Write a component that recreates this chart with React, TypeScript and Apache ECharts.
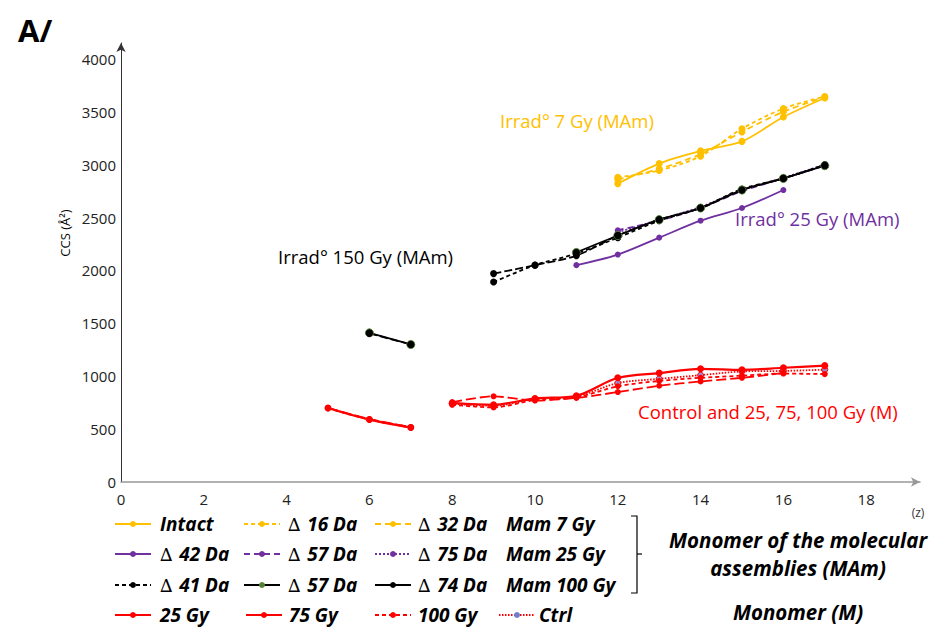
import React, { useEffect, useRef } from "react";
import * as echarts from "echarts";

// ---------- data ----------
const zM1 = [5, 6, 7];
const zM2 = [8, 9, 10, 11, 12, 13, 14, 15, 16, 17];
const zM2b = [8, 9, 10, 11, 12, 13, 14, 15, 16];
const gy25A = [700, 590, 515];
const gy25B = [745, 730, 790, 815, 985, 1030, 1070, 1060, 1080, 1100];
const gy75A = [702, 595, 520];
const gy75B = [755, 810, 770, 795, 850, 910, 950, 985, 1030];
const gy100A = [696, 590, 514];
const gy100B = [730, 705, 775, 800, 905, 955, 985, 1005, 1025, 1020];
const ctrlA = [700, 592, 518];
const ctrlB = [740, 720, 785, 808, 935, 975, 1010, 1045, 1050, 1062];

const z6 = [6, 7];
const z9 = [9, 10, 11, 12, 13, 14, 15, 16, 17];
const z11 = [11, 12, 13, 14, 15, 16, 17];
const z11b = [11, 12, 13, 14, 15, 16];
const z12 = [12, 13, 14, 15, 16, 17];

const b41 = [1890, 2050, 2160, 2310, 2470, 2590, 2770, 2870, 3000];
const b57A = [1410, 1300];
const b57B = [2170, 2330, 2480, 2590, 2760, 2870, 2990];
const b74A = [1405, 1300];
const b74B = [1970, 2050, 2140, 2330, 2480, 2590, 2760, 2870, 2995];

const p42 = [2050, 2150, 2310, 2470, 2590, 2760];
const p57 = [2380, 2470, 2590, 2750, 2870, 2990];
const p75 = [2360, 2480, 2600, 2760, 2875, 3000];

const yIntact = [2820, 3010, 3130, 3220, 3450, 3630];
const y16 = [2880, 2945, 3080, 3340, 3530, 3645];
const y32 = [2860, 2960, 3100, 3310, 3500, 3640];

const xTicks = [0, 2, 4, 6, 8, 10, 12, 14, 16, 18];
const yTicks = [0, 500, 1000, 1500, 2000, 2500, 3000, 3500, 4000];

const YEL = "#FFC000";
const PUR = "#7030A0";
const RED = "#FF0000";
const BLK = "#000000";
const GRN = "#548235";

const pairs = (xs: number[], ys: number[]) => xs.map((x, i) => [x, ys[i]]);

function mk(name: string, xs: number[], ys: number[], color: string, type: any, opts: any = {}) {
  return {
    name,
    type: "line",
    data: pairs(xs, ys),
    smooth: 0.3,
    symbol: "circle",
    symbolSize: opts.size ?? 6,
    lineStyle: { color, width: opts.width ?? 1.8, type },
    itemStyle: { color: opts.marker ?? color, borderColor: opts.border ?? color, borderWidth: opts.bw ?? 0 },
    z: opts.z ?? 2,
  };
}

// legend definition (delta symbol kept separate for its thin style)
const legendItems = [
  { d0: "", t: "Intact", c: YEL, d: "solid", lx: 115, tx: 160, row: 0 },
  { d0: "\u2206", t: "16 Da", c: YEL, d: [4, 3], lx: 244, tx: 288, row: 0 },
  { d0: "\u2206", t: "32 Da", c: YEL, d: [6, 4], lx: 375, tx: 418, row: 0 },
  { d0: "", t: "Mam 7 Gy", c: null, d: null, lx: 0, tx: 506, row: 0 },
  { d0: "\u2206", t: "42 Da", c: PUR, d: "solid", lx: 115, tx: 160, row: 1 },
  { d0: "\u2206", t: "57 Da", c: PUR, d: [6, 4], lx: 244, tx: 288, row: 1 },
  { d0: "\u2206", t: "75 Da", c: PUR, d: [2, 2], lx: 375, tx: 418, row: 1 },
  { d0: "", t: "Mam 25 Gy", c: null, d: null, lx: 0, tx: 506, row: 1 },
  { d0: "\u2206", t: "41 Da", c: BLK, d: [4, 3], lx: 115, tx: 160, row: 2 },
  { d0: "\u2206", t: "57 Da", c: BLK, d: "solid", lx: 244, tx: 288, row: 2, m: GRN },
  { d0: "\u2206", t: "74 Da", c: BLK, d: "solid", lx: 375, tx: 418, row: 2 },
  { d0: "", t: "Mam 100 Gy", c: null, d: null, lx: 0, tx: 506, row: 2 },
  { d0: "", t: "25 Gy", c: RED, d: "solid", lx: 115, tx: 160, row: 3 },
  { d0: "", t: "75 Gy", c: RED, d: "solid", lx: 246, tx: 289, row: 3 },
  { d0: "", t: "100 Gy", c: RED, d: [4, 3], lx: 375, tx: 418, row: 3 },
  { d0: "", t: "Ctrl", c: RED, d: [1.5, 1.5], lx: 499, tx: 539, row: 3, m: "#6f7fd0" },
];
const rowY = [524, 554, 585, 615];

const F = "'Open Sans'";

export default function App() {
  const ref = useRef<HTMLDivElement>(null);
  useEffect(() => {
    if (!ref.current) return;
    const chart = echarts.init(ref.current, null, { renderer: "svg" });

    const graphics: any[] = [];
    legendItems.forEach((it) => {
      const y = rowY[it.row];
      if (it.c) {
        graphics.push({
          type: "line",
          shape: { x1: it.lx, y1: y, x2: it.lx + 36, y2: y },
          style: { stroke: it.c, lineWidth: 2, lineDash: it.d === "solid" ? null : it.d },
        });
        graphics.push({
          type: "circle",
          shape: { cx: it.lx + 18, cy: y, r: 3 },
          style: { fill: it.m ?? it.c },
        });
      }
      const txt = it.d0 ? `{d|${it.d0}}  {b|${it.t}}` : `{b|${it.t}}`;
      graphics.push({
        type: "text",
        x: it.tx,
        y,
        style: {
          text: txt,
          fill: "#000",
          textVerticalAlign: "middle",
          rich: {
            d: { font: `italic 18px 'DejaVu Serif'`, fill: "#000" },
            b: { font: `italic bold 19px ${F}`, fill: "#000" },
          },
        },
      });
    });
    // bracket
    graphics.push({
      type: "polyline",
      shape: { points: [[631, 516], [637, 516], [637, 593], [631, 593]] },
      style: { stroke: "#000", lineWidth: 1.2, fill: null },
    });
    graphics.push({
      type: "line",
      shape: { x1: 637, y1: 554, x2: 642, y2: 554 },
      style: { stroke: "#000", lineWidth: 1.2 },
    });
    const rightTexts = [
      { t: "Monomer of the molecular", y: 540 },
      { t: "assemblies (MAm)", y: 568 },
      { t: "Monomer (M)", y: 612 },
    ];
    rightTexts.forEach((r) =>
      graphics.push({
        type: "text",
        x: 798,
        y: r.y,
        style: {
          text: r.t,
          fill: "#000",
          font: `italic bold 20.5px ${F}`,
          textAlign: "center",
          textVerticalAlign: "middle",
        },
      })
    );
    // annotations
    const ann = [
      { t: "Irrad\u00b0 7 Gy (MAm)", x: 500, y: 120, c: YEL },
      { t: "Irrad\u00b0 25 Gy (MAm)", x: 735, y: 218, c: PUR },
      { t: "Irrad\u00b0 150 Gy (MAm)", x: 278, y: 256, c: BLK },
      { t: "Control and 25, 75, 100 Gy (M)", x: 638, y: 411, c: RED },
    ];
    ann.forEach((a) =>
      graphics.push({
        type: "text",
        x: a.x,
        y: a.y,
        style: { text: a.t, fill: a.c, font: `18.5px ${F}`, textVerticalAlign: "middle" },
      })
    );
    graphics.push({
      type: "text",
      x: 18,
      y: 30,
      style: { text: "A/", fill: "#000", font: `bold 31px ${F}`, textVerticalAlign: "middle" },
    });
    graphics.push({
      type: "text",
      x: 65,
      y: 233,
      rotation: Math.PI / 2,
      style: { text: "CCS (\u00c5\u00b2)", fill: "#000", font: `13px ${F}`, textAlign: "center", textVerticalAlign: "middle" },
    });
    graphics.push({
      type: "text",
      x: 918,
      y: 512,
      style: { text: "(z)", fill: "#333", font: `12px ${F}`, textAlign: "center", textVerticalAlign: "middle" },
    });

    const series = [
      mk("Δ 42 Da", z11b, p42, PUR, "solid", { size: 6 }),
      mk("Δ 57 Da p", z12, p57, PUR, [6, 4], { size: 6 }),
      mk("Δ 75 Da", z12, p75, PUR, [2, 2], { size: 6 }),
      mk("Intact", z12, yIntact, YEL, "solid", { size: 7 }),
      mk("Δ 16 Da", z12, y16, YEL, [4, 3], { size: 7 }),
      mk("Δ 32 Da", z12, y32, YEL, [6, 4], { size: 7 }),
      mk("Δ 41 Da", z9, b41, BLK, [4, 3], { size: 7, z: 3 }),
      mk("Δ 57 Da a", z6, b57A, BLK, "solid", { size: 8, marker: BLK, border: GRN, bw: 1, z: 3 }),
      mk("Δ 57 Da b", z11, b57B, BLK, "solid", { size: 8, marker: BLK, border: GRN, bw: 1, z: 3 }),
      mk("Δ 74 Da a", z6, b74A, BLK, [8, 3], { size: 7, z: 3 }),
      mk("Δ 74 Da b", z9, b74B, BLK, [8, 3], { size: 7, z: 3 }),
      mk("Ctrl a", zM1, ctrlA, RED, [1.5, 1.5], { size: 6, marker: "#c8a0a0" }),
      mk("Ctrl b", zM2, ctrlB, RED, [1.5, 1.5], { size: 6, marker: "#9a8ad0", border: RED, bw: 1 }),
      mk("100 Gy a", zM1, gy100A, RED, [4, 3], { size: 6 }),
      mk("100 Gy b", zM2, gy100B, RED, [4, 3], { size: 6 }),
      mk("75 Gy a", zM1, gy75A, RED, [10, 4], { size: 6 }),
      mk("75 Gy b", zM2b, gy75B, RED, [10, 4], { size: 6 }),
      mk("25 Gy a", zM1, gy25A, RED, "solid", { size: 7, width: 2.2 }),
      mk("25 Gy b", zM2, gy25B, RED, "solid", { size: 7, width: 2.2 }),
    ];

    chart.setOption({
      animation: false,
      grid: { left: 121, right: 13, top: 43, bottom: 154 },
      xAxis: {
        type: "value",
        min: 0,
        max: 19.3,
        interval: 2,
        axisLine: { show: true, lineStyle: { color: "#999", width: 1.5 }, symbol: ["none", "arrow"], symbolSize: [7, 9] },
        axisTick: { show: false },
        splitLine: { show: false },
        axisLabel: {
          margin: 9,
          fontSize: 15,
          fontFamily: "Open Sans",
          color: "#222",
          showMaxLabel: false,
          formatter: (v: number) => (xTicks.includes(v) ? String(v) : ""),
        },
      },
      yAxis: {
        type: "value",
        min: 0,
        max: 4150,
        interval: 500,
        axisLine: { show: true, lineStyle: { color: "#333", width: 1 }, symbol: ["none", "arrow"], symbolSize: [7, 9] },
        axisTick: { show: false },
        splitLine: { show: false },
        axisLabel: {
          margin: 5,
          fontSize: 15,
          fontFamily: "Open Sans",
          color: "#222",
          formatter: (v: number) => (yTicks.includes(v) ? String(v) : ""),
        },
      },
      graphic: graphics,
      series,
    });
    return () => chart.dispose();
  }, []);
  return <div ref={ref} style={{ position: "absolute", left: 0, top: 0, width: 933, height: 636 }} />;
}
